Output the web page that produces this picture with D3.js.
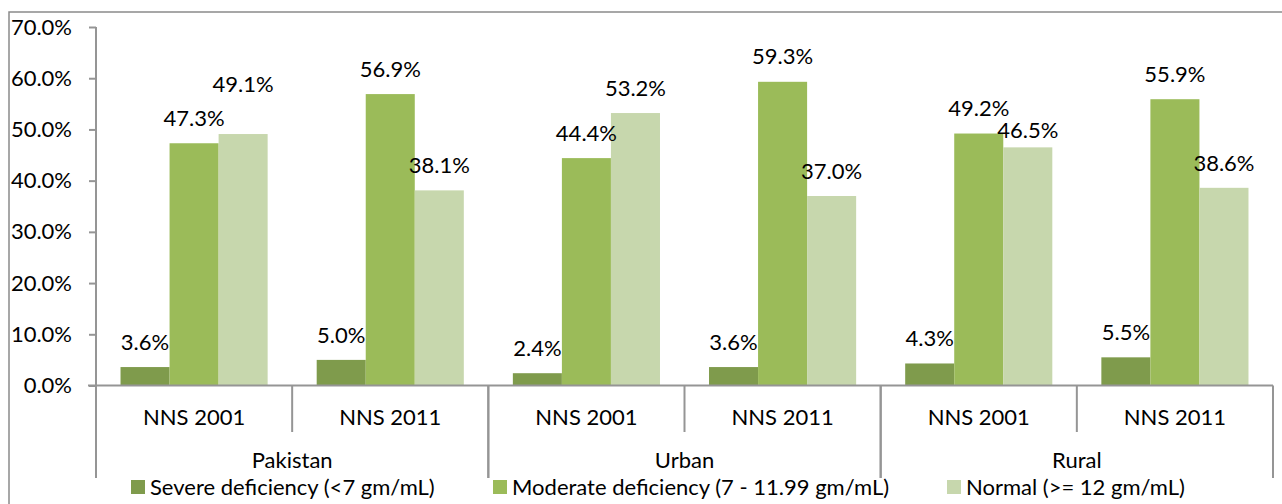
<!DOCTYPE html>
<html>
<head>
<meta charset="utf-8">
<script src="https://cdn.jsdelivr.net/npm/d3@7/dist/d3.min.js"></script>
<style>
  html, body { margin: 0; padding: 0; background: #fff; }
  svg { display: block; }
  text { font-family: Lato, "Open Sans", sans-serif; fill: #000; }
</style>
</head>
<body>
<svg id="chart" width="1282" height="504"></svg>
<script>
// Anaemia status by survey round, shown for Pakistan, urban and rural areas
const groups = ["Pakistan", "Urban", "Rural"];
const surveys = ["NNS 2001", "NNS 2011"];
const seriesNames = [
  "Severe deficiency (<7 gm/mL)",
  "Moderate deficiency (7 - 11.99 gm/mL)",
  "Normal (>= 12 gm/mL)"
];
// one value per group × survey, in the order Pakistan 2001, Pakistan 2011, Urban 2001, ...
const severe   = [3.6, 5.0, 2.4, 3.6, 4.3, 5.5];
const moderate = [47.3, 56.9, 44.4, 59.3, 49.2, 55.9];
const normal   = [49.1, 38.1, 53.2, 37.0, 46.5, 38.6];
const yTicks = [0, 10, 20, 30, 40, 50, 60, 70];

const colors = ["#7f9b4c", "#9bbb59", "#c7d7ad"];
const axisColor = "#959595";
const fontSize = 22;

const svg = d3.select("#chart");

// outer frame of the figure
svg.append("path")
  .attr("d", "M9,505 V12 H1283")
  .attr("fill", "none")
  .attr("stroke", "#8a8a8a")
  .attr("stroke-width", 1.5);

const plot = { left: 96, right: 1273, top: 27, bottom: 385.5 };

const categories = [];
groups.forEach(g => surveys.forEach(s => categories.push({ group: g, survey: s, key: g + "|" + s })));
const values = [severe, moderate, normal];

const x = d3.scaleBand()
  .domain(categories.map(c => c.key))
  .range([plot.left, plot.right])
  .paddingInner(0).paddingOuter(0);

const xs = d3.scaleBand()
  .domain(d3.range(seriesNames.length))
  .range([0, x.bandwidth()])
  .paddingInner(0).paddingOuter(0.5);

const y = d3.scaleLinear().domain([0, 70]).range([plot.bottom, plot.top]);

// y axis
const yAxis = d3.axisLeft(y)
  .tickValues(yTicks)
  .tickFormat(d => d3.format(".1f")(d) + "%")
  .tickSize(7)
  .tickPadding(17);
const yg = svg.append("g").attr("transform", `translate(${plot.left},0)`).call(yAxis);
yg.select(".domain").remove();
yg.selectAll(".tick line").attr("stroke", axisColor).attr("stroke-width", 2);
yg.selectAll(".tick text").attr("font-size", fontSize).attr("font-family", "Lato").attr("fill", "#000");
svg.append("line")
  .attr("x1", plot.left).attr("x2", plot.left)
  .attr("y1", plot.top).attr("y2", 478)
  .attr("stroke", axisColor).attr("stroke-width", 2);

// bars
const barData = [];
categories.forEach((c, i) => {
  values.forEach((arr, s) => barData.push({ cat: c.key, i, s, v: arr[i] }));
});

svg.append("g").selectAll("rect")
  .data(barData).join("rect")
  .attr("x", d => x(d.cat) + xs(d.s))
  .attr("width", xs.bandwidth())
  .attr("y", d => y(d.v))
  .attr("height", d => y(0) - y(d.v))
  .attr("fill", d => colors[d.s]);

// data labels sit above each bar; a few are shifted to avoid crowding
const labelShift = { "0|2": -25, "4|2": 8 };
svg.append("g").selectAll("text")
  .data(barData).join("text")
  .attr("x", d => x(d.cat) + xs(d.s) + xs.bandwidth() / 2)
  .attr("y", d => y(d.v) - 25 + (labelShift[d.i + "|" + d.s] || 0))
  .attr("dy", "0.35em")
  .attr("text-anchor", "middle")
  .attr("font-size", fontSize)
  .text(d => d3.format(".1f")(d.v) + "%");

// x axis baseline
svg.append("line")
  .attr("x1", 88).attr("x2", plot.right)
  .attr("y1", y(0)).attr("y2", y(0))
  .attr("stroke", axisColor).attr("stroke-width", 2);

// survey dividers and labels
const xa = svg.append("g");
categories.forEach((c, i) => {
  const x0 = x(c.key);
  const isGroupEdge = i % surveys.length === 0;
  if (!isGroupEdge) {
    xa.append("line")
      .attr("x1", x0).attr("x2", x0)
      .attr("y1", y(0)).attr("y2", 432)
      .attr("stroke", axisColor).attr("stroke-width", 2);
  }
  xa.append("text")
    .attr("x", x0 + x.bandwidth() / 2)
    .attr("y", 417)
    .attr("dy", "0.35em")
    .attr("text-anchor", "middle")
    .attr("font-size", fontSize)
    .text(c.survey);
});

// group dividers and labels
groups.forEach((g, gi) => {
  const first = x(g + "|" + surveys[0]);
  const last = x(g + "|" + surveys[surveys.length - 1]) + x.bandwidth();
  [first, last].forEach(px => {
    xa.append("line")
      .attr("x1", px).attr("x2", px)
      .attr("y1", y(0)).attr("y2", 478)
      .attr("stroke", axisColor).attr("stroke-width", 2);
  });
  xa.append("text")
    .attr("x", (first + last) / 2)
    .attr("y", 460)
    .attr("dy", "0.35em")
    .attr("text-anchor", "middle")
    .attr("font-size", fontSize)
    .text(g);
});

// legend
const legendX = [131, 493, 947];
const lg = svg.append("g");
seriesNames.forEach((name, s) => {
  lg.append("rect")
    .attr("x", legendX[s]).attr("y", 480)
    .attr("width", 14).attr("height", 14)
    .attr("fill", colors[s]);
  lg.append("text")
    .attr("x", legendX[s] + 19)
    .attr("y", 487)
    .attr("dy", "0.35em")
    .attr("font-size", fontSize)
    .text(name);
});
</script>
</body>
</html>
